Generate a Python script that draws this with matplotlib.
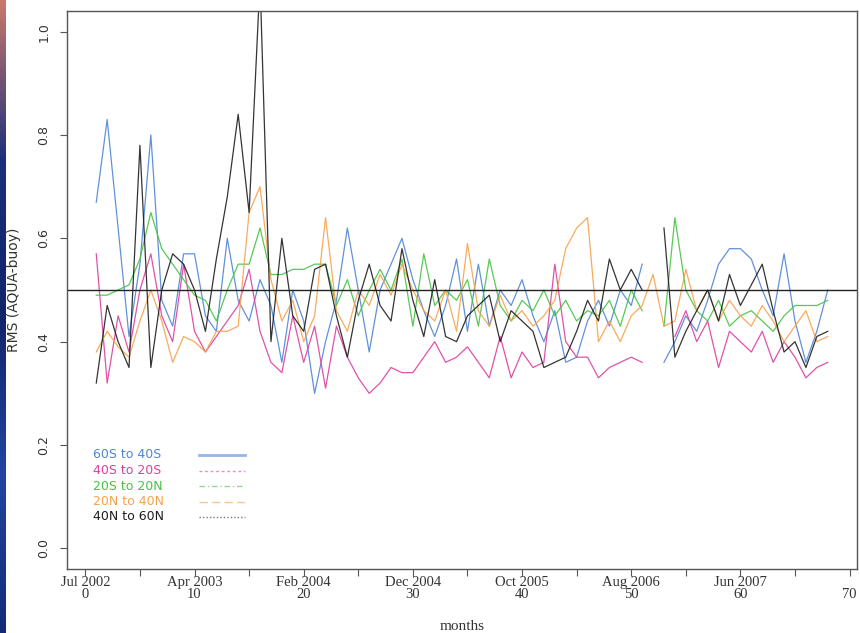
import numpy as np
import matplotlib
matplotlib.use("Agg")
import matplotlib.pyplot as plt
from matplotlib.lines import Line2D
from matplotlib.colors import LinearSegmentedColormap

nan = np.nan

# month index 1..68 (Jul 2002 = 0)
months = np.arange(1, 69)

rms_60s_40s = [0.67, 0.83, 0.62, 0.41, 0.55, 0.80, 0.48, 0.43, 0.57, 0.57,
               0.45, 0.42, 0.60, 0.48, 0.44, 0.52, 0.47, 0.36, 0.50, 0.44,
               0.30, 0.40, 0.48, 0.62, 0.50, 0.38, 0.50, 0.55, 0.60, 0.52,
               0.46, 0.41, 0.47, 0.56, 0.42, 0.55, 0.43, 0.50, 0.47, 0.52,
               0.45, 0.40, 0.46, 0.36, 0.37, 0.44, 0.48, 0.43, 0.50, 0.47,
               0.55, nan, 0.36, 0.40, 0.45, 0.42, 0.48, 0.55, 0.58, 0.58,
               0.56, 0.50, 0.45, 0.57, 0.44, 0.36, 0.42, 0.50]
rms_40s_20s = [0.57, 0.32, 0.45, 0.38, 0.50, 0.57, 0.45, 0.40, 0.55, 0.42,
               0.38, 0.41, 0.44, 0.47, 0.54, 0.42, 0.36, 0.34, 0.45, 0.36,
               0.43, 0.31, 0.43, 0.37, 0.33, 0.30, 0.32, 0.35, 0.34, 0.34,
               0.37, 0.40, 0.36, 0.37, 0.39, 0.36, 0.33, 0.41, 0.33, 0.38,
               0.35, 0.36, 0.55, 0.40, 0.37, 0.37, 0.33, 0.35, 0.36, 0.37,
               0.36, nan, nan, 0.41, 0.46, 0.40, 0.44, 0.35, 0.42, 0.40,
               0.38, 0.42, 0.36, 0.40, 0.37, 0.33, 0.35, 0.36]
rms_20s_20n = [0.49, 0.49, 0.50, 0.51, 0.56, 0.65, 0.58, 0.55, 0.52, 0.49,
               0.48, 0.44, 0.50, 0.55, 0.55, 0.62, 0.53, 0.53, 0.54, 0.54,
               0.55, 0.55, 0.47, 0.52, 0.45, 0.50, 0.54, 0.50, 0.56, 0.43,
               0.57, 0.47, 0.50, 0.48, 0.52, 0.43, 0.56, 0.47, 0.44, 0.48,
               0.46, 0.50, 0.45, 0.48, 0.44, 0.46, 0.45, 0.48, 0.43, 0.50,
               0.46, nan, 0.43, 0.64, 0.50, 0.46, 0.44, 0.48, 0.43, 0.45,
               0.46, 0.44, 0.42, 0.45, 0.47, 0.47, 0.47, 0.48]
rms_20n_40n = [0.38, 0.42, 0.39, 0.37, 0.44, 0.50, 0.44, 0.36, 0.41, 0.40,
               0.38, 0.42, 0.42, 0.43, 0.65, 0.70, 0.52, 0.44, 0.48, 0.40,
               0.45, 0.64, 0.46, 0.42, 0.50, 0.47, 0.53, 0.49, 0.55, 0.50,
               0.46, 0.44, 0.50, 0.42, 0.59, 0.46, 0.43, 0.49, 0.44, 0.46,
               0.43, 0.45, 0.48, 0.58, 0.62, 0.64, 0.40, 0.44, 0.40, 0.45,
               0.47, 0.53, 0.43, 0.44, 0.54, 0.46, 0.50, 0.44, 0.48, 0.45,
               0.43, 0.47, 0.44, 0.40, 0.43, 0.46, 0.40, 0.41]
rms_40n_60n = [0.32, 0.47, 0.40, 0.35, 0.78, 0.35, 0.50, 0.57, 0.55, 0.50,
               0.42, 0.56, 0.68, 0.84, 0.65, 1.10, 0.40, 0.60, 0.45, 0.42,
               0.54, 0.55, 0.45, 0.37, 0.48, 0.55, 0.47, 0.44, 0.58, 0.48,
               0.41, 0.52, 0.41, 0.40, 0.45, 0.47, 0.49, 0.40, 0.46, 0.44,
               0.42, 0.35, 0.36, 0.37, 0.42, 0.48, 0.44, 0.56, 0.50, 0.54,
               0.50, nan, 0.62, 0.37, 0.42, 0.46, 0.50, 0.44, 0.53, 0.47,
               0.51, 0.55, 0.46, 0.38, 0.40, 0.35, 0.41, 0.42]

names = ['60S to 40S', '40S to 20S', '20S to 20N', '20N to 40N', '40N to 60N']
colors = ['#4f86d6', '#dd3fa0', '#44c444', '#f7a24a', '#1e1e1e']
leg_styles = ['-', (0, (2, 2)), (0, (4, 2, 1, 2)), (0, (6, 3)), (0, (1, 1.5))]

tick_pos = [0, 10, 20, 30, 40, 50, 60, 70]
tick_lab = ['Jul 2002\n0', 'Apr 2003\n10', 'Feb 2004\n20', 'Dec 2004\n30',
            'Oct 2005\n40', 'Aug 2006\n50', 'Jun 2007\n60', '\n70']

fig = plt.figure(figsize=(8.6, 6.33), dpi=100)

# slide background strip on the left
bg = fig.add_axes([0, 0, 6 / 860, 1], zorder=-5)
strip = LinearSegmentedColormap.from_list(
    'strip', ['#c9786a', '#1c2f7c', '#13236a', '#2245a0', '#142a78'])
grad = np.linspace(0, 1, 200).reshape(-1, 1)
bg.imshow(grad, aspect='auto', cmap=strip)
bg.axis('off')

ax = fig.add_axes([67 / 860, 1 - 569 / 633, 790 / 860, 558 / 633])

series = [rms_60s_40s, rms_40s_20s, rms_20s_20n, rms_20n_40n, rms_40n_60n]
for vals, c in zip(series, colors):
    ax.plot(months, vals, color=c, lw=0.9, alpha=0.9)

ax.axhline(0.5, color='#222222', lw=1.0)

ax.set_xlim(-1.68, 70.68)
ax.set_ylim(-0.04, 1.04)

ax.set_xticks(np.arange(0, 71, 5))
ax.set_xticklabels([tick_lab[tick_pos.index(v)] if v in tick_pos else ''
                    for v in range(0, 71, 5)],
                   family='Liberation Serif', fontsize=10.5, linespacing=0.95)
ax.set_yticks([0, 0.2, 0.4, 0.6, 0.8, 1.0])
ax.set_yticklabels(['0.0', '0.2', '0.4', '0.6', '0.8', '1.0'],
                   rotation=90, va='center', fontsize=9, color='#333333')
ax.tick_params(axis='x', length=5, pad=0, color='#555555', labelcolor='#333333')
ax.tick_params(axis='y', length=5, pad=7, color='#555555')
for s in ax.spines.values():
    s.set_color('#555555')
    s.set_linewidth(1.0)

ax.set_xlabel('months', family='Liberation Serif', fontsize=11,
              color='#333333', labelpad=13)
ax.set_ylabel('RMS (AQUA-buoy)', fontsize=10, color='#333333')
ax.yaxis.set_label_coords((21 - 67) / 790, 0.5)

# legend, drawn R-style: coloured text, line samples to the right
for i, (name, c, ls) in enumerate(zip(names, colors, leg_styles)):
    yy = (569 - 455 - i * 15.5) / 558
    ax.text((93 - 67) / 790, yy, name, transform=ax.transAxes, color=c,
            fontsize=9, va='center', ha='left')
    ax.add_line(Line2D([(199 - 67) / 790, (245 - 67) / 790], [yy, yy],
                       transform=ax.transAxes, color=c, alpha=0.6,
                       lw=2.0 if i == 0 else 1.0, linestyle=ls))

fig.savefig('out.png', dpi=100)
